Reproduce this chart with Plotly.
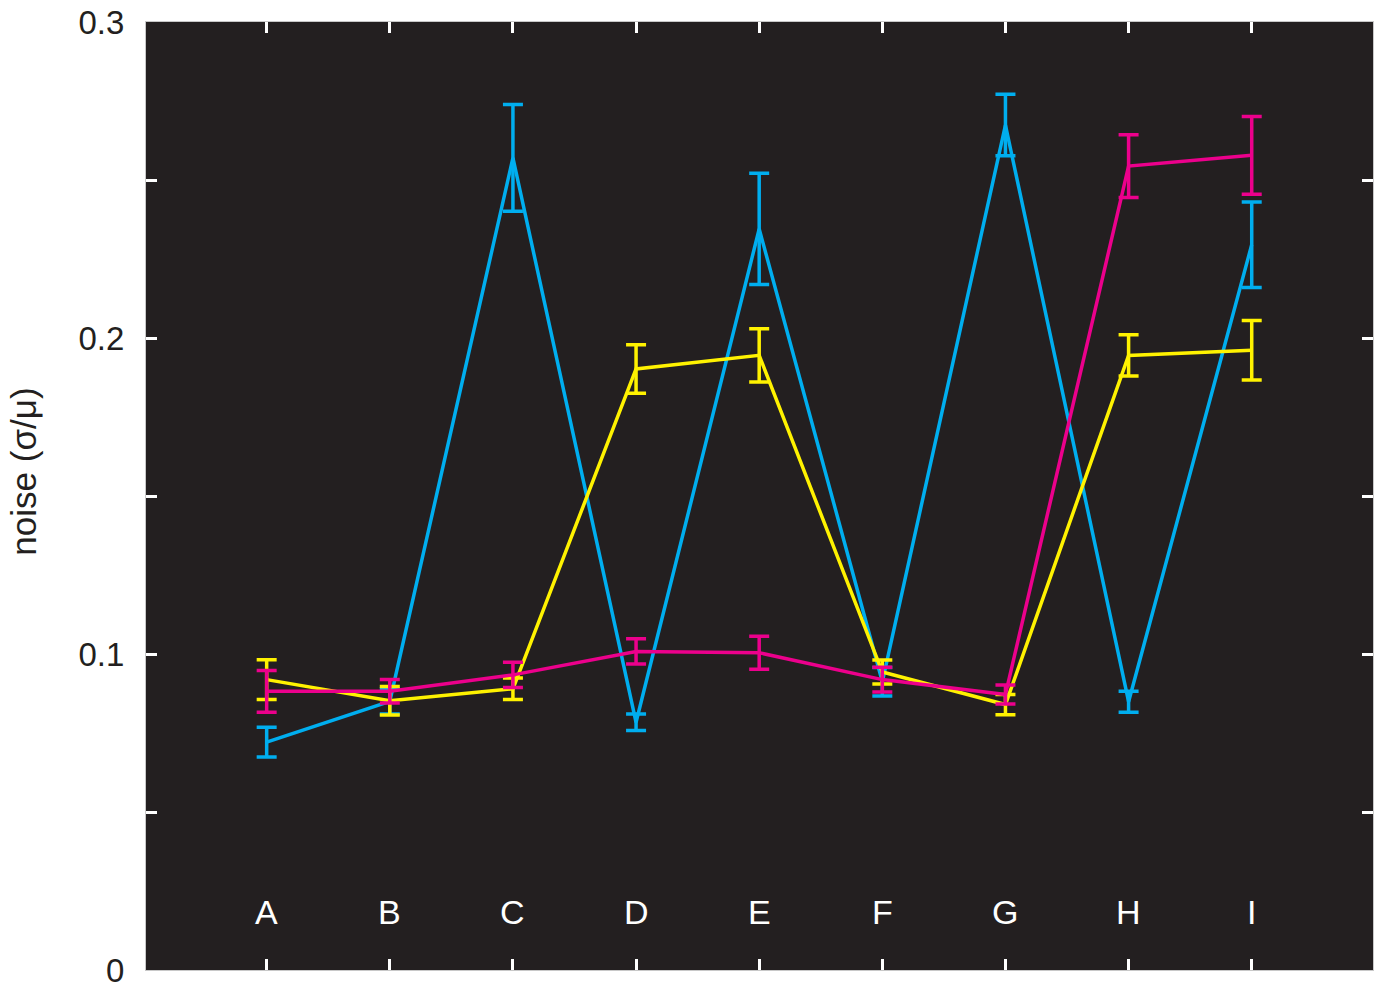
import plotly.graph_objects as go

# Categories and per-series noise (coefficient of variation) with error sizes
categories = ["A", "B", "C", "D", "E", "F", "G", "H", "I"]
positions = [1, 2, 3, 4, 5, 6, 7, 8, 9]

cyan_vals = [0.0721, 0.0850, 0.2570, 0.0784, 0.2345, 0.0912, 0.2674, 0.0849, 0.2295]
cyan_err = [0.0047, 0.0040, 0.0169, 0.0026, 0.0176, 0.0045, 0.0097, 0.0033, 0.0135]

yellow_vals = [0.0919, 0.0852, 0.0890, 0.1902, 0.1945, 0.0943, 0.0840, 0.1945, 0.1961]
yellow_err = [0.0063, 0.0045, 0.0034, 0.0077, 0.0084, 0.0038, 0.0032, 0.0065, 0.0094]

magenta_vals = [0.0882, 0.0882, 0.0934, 0.1008, 0.1004, 0.0919, 0.0872, 0.2544, 0.2578]
magenta_err = [0.0066, 0.0037, 0.0040, 0.0040, 0.0052, 0.0039, 0.0030, 0.0099, 0.0123]

y_tickvals = [0, 0.05, 0.1, 0.15, 0.2, 0.25, 0.3]
y_ticktext = ["0", "", "0.1", "", "0.2", "", "0.3"]

BG = "#231F20"
FONT = "Liberation Sans, Arial, Helvetica, sans-serif"

series = [
    ("cyan", cyan_vals, cyan_err, "#00AEEF"),
    ("yellow", yellow_vals, yellow_err, "#FFF200"),
    ("magenta", magenta_vals, magenta_err, "#EC008C"),
]

fig = go.Figure()
for name, vals, errs, color in series:
    fig.add_trace(go.Scatter(
        x=positions, y=vals, mode="lines", name=name,
        line=dict(color=color, width=3.5),
        error_y=dict(type="data", array=errs, visible=True,
                     color=color, thickness=3.5, width=10),
        showlegend=False,
    ))

# Category names drawn inside the plot area near the bottom
for pos, cat in zip(positions, categories):
    fig.add_annotation(x=pos, y=0.0183, xref="x", yref="y", text=cat,
                       showarrow=False, xanchor="center", yanchor="middle",
                       font=dict(family=FONT, size=34, color="white"))

fig.add_annotation(x=-0.1, y=0.526, xref="paper", yref="paper",
                   text="noise (σ/μ)", textangle=-90, showarrow=False,
                   xanchor="center", yanchor="middle",
                   font=dict(family=FONT, size=35, color=BG))

fig.update_xaxes(range=[0.02, 9.985], tickvals=positions, ticktext=[""] * 9,
                 ticks="inside", ticklen=11, tickwidth=2.5, tickcolor="white",
                 showline=True, linecolor="#C8C8C8", linewidth=1.2,
                 mirror="ticks", showgrid=False, zeroline=False)

fig.update_yaxes(range=[0, 0.3], tickvals=y_tickvals, ticktext=y_ticktext,
                 ticks="inside", ticklen=11, tickwidth=2.5, tickcolor="white",
                 showline=True, linecolor="#C8C8C8", linewidth=1.2,
                 mirror="ticks", showgrid=False, zeroline=False,
                 ticklabelstandoff=14, ticklabeloverflow="allow",
                 tickfont=dict(family=FONT, size=33, color=BG))

fig.update_layout(
    width=1375, height=990,
    margin=dict(l=146, r=1, t=22, b=16, pad=0),
    plot_bgcolor=BG, paper_bgcolor="white",
    font=dict(family=FONT, color=BG),
)

fig.write_html("out.html")
